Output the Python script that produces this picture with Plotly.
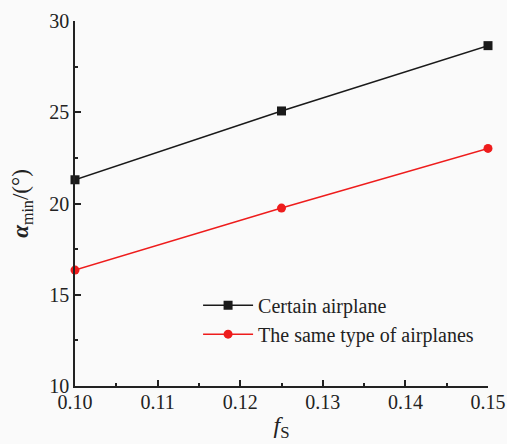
import plotly.graph_objects as go

fs = [0.10, 0.125, 0.15]
certain = [21.3, 25.07, 28.65]
same_type = [16.35, 19.75, 23.02]
x_ticks = [0.10, 0.11, 0.12, 0.13, 0.14, 0.15]
x_tick_text = ["0.10", "0.11", "0.12", "0.13", "0.14", "0.15"]
y_ticks = [10, 15, 20, 25, 30]

font_family = "Liberation Serif"

fig = go.Figure()
fig.add_trace(go.Scatter(
    x=fs, y=certain, mode="lines+markers", name="Certain airplane",
    line=dict(color="#1a1a1a", width=1.5),
    marker=dict(symbol="square", size=9, color="#1a1a1a"),
    cliponaxis=False,
))
fig.add_trace(go.Scatter(
    x=fs, y=same_type, mode="lines+markers", name="The same type of airplanes",
    line=dict(color="#ee1c1c", width=1.5),
    marker=dict(symbol="circle", size=9, color="#ee1c1c"),
    cliponaxis=False,
))

fig.update_layout(
    width=507, height=444,
    margin=dict(l=75, r=19, t=21, b=58),
    paper_bgcolor="#fafafa", plot_bgcolor="#fafafa",
    font=dict(family=font_family, size=20, color="#222222"),
    showlegend=True,
    legend=dict(
        x=0.298, y=0.275, xanchor="left", yanchor="top",
        bgcolor="rgba(0,0,0,0)", font=dict(family=font_family, size=20, color="#222222"),
        tracegroupgap=0, itemwidth=50,
    ),
    xaxis=dict(
        range=[0.10, 0.15], tickvals=x_ticks, ticktext=x_tick_text,
        showline=True, linecolor="#222222", linewidth=1.6,
        ticks="inside", ticklen=6, tickwidth=1.5, tickcolor="#222222",
        minor=dict(ticks="inside", ticklen=3, tickwidth=1.5, tickcolor="#222222", dtick=0.005),
        showgrid=False, zeroline=False, automargin=False,
        title=dict(text="<i>f</i><sub>S</sub>", font=dict(family=font_family, size=24), standoff=4),
        tickfont=dict(family=font_family, size=20),
        ticklabelstandoff=-3,
    ),
    yaxis=dict(
        range=[10, 30], tickvals=y_ticks,
        showline=True, linecolor="#222222", linewidth=1.6,
        ticks="inside", ticklen=6, tickwidth=1.5, tickcolor="#222222",
        minor=dict(ticks="inside", ticklen=3, tickwidth=1.5, tickcolor="#222222", dtick=2.5),
        showgrid=False, zeroline=False, automargin=False,
        title=dict(text="<b><i>α</i></b><sub>min</sub>/(°)", font=dict(family=font_family, size=23), standoff=14),
        tickfont=dict(family=font_family, size=20),
    ),
)

fig.write_html("out.html")
